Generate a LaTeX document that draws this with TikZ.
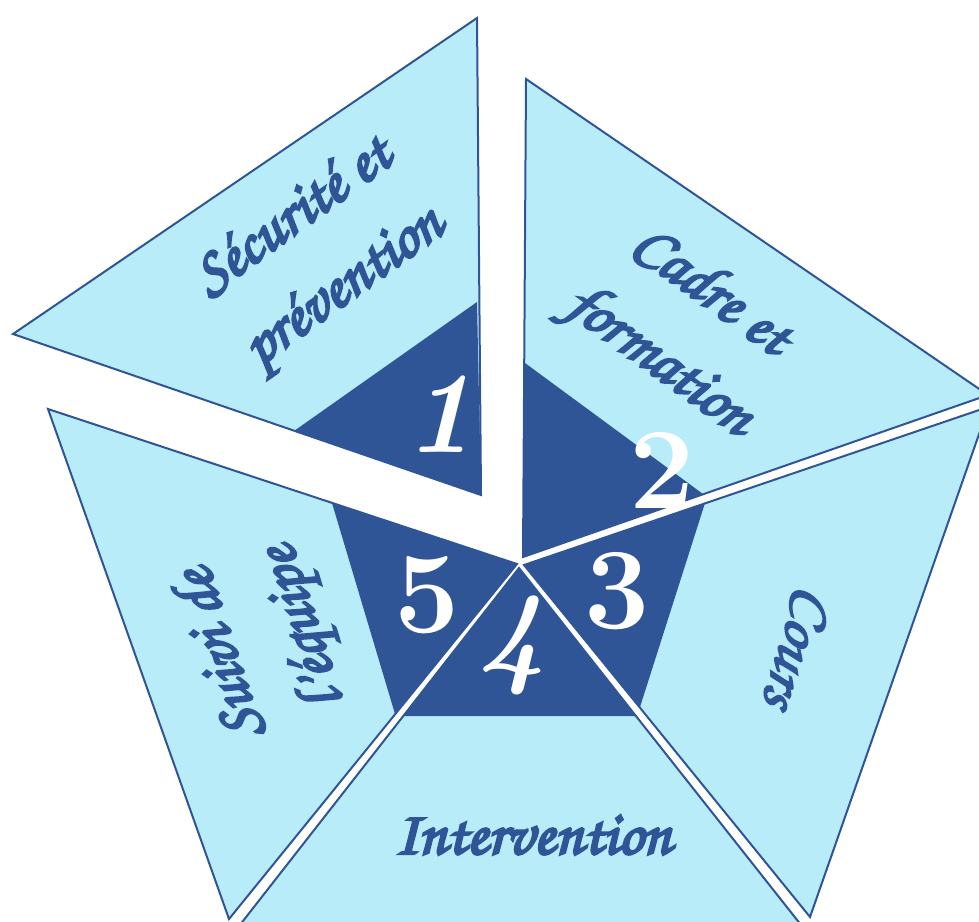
\documentclass[tikz,border=0pt]{standalone}
\usepackage{fontspec}
\newfontfamily\lblfont[FakeBold=4]{TeX Gyre Chorus}
\newfontfamily\lblthin[FakeBold=3]{TeX Gyre Chorus}
\definecolor{dkblue}{RGB}{47,85,151}
\definecolor{ltblue}{RGB}{184,236,249}
\tikzset{
  sect/.style={fill=ltblue, draw=dkblue, line width=2pt, line join=miter},
  core/.style={fill=dkblue},
  lbl/.style={text=dkblue, font=\lblfont\fontsize{62}{86}\selectfont, align=center, inner sep=0pt},
  num/.style={text=white, font=\fontsize{116}{116}\selectfont\bfseries, inner sep=0pt},
  numit/.style={num, font=\fontsize{116}{116}\selectfont\bfseries\itshape}
}
\begin{document}
\begin{tikzpicture}[x=1pt,y=-1pt]
\useasboundingbox (0,0) rectangle (979,921);
\clip (0,0) rectangle (979,921);
% sector 1
\draw[sect] (481,495) -- (477,18) -- (13,334) -- cycle;
\fill[core] (481,495) -- (477,302) -- (294,431) -- cycle;
% sector 2
\draw[sect] (523,557) -- (526,79) -- (988,395) -- cycle;
\fill[core] (523,557) -- (525,363) -- (703,494) -- cycle;
% sector 3
\draw[sect] (524,565) -- (988.6,406.8) -- (810,917) -- cycle;
\fill[core] (524,565) -- (705,503) -- (640,707) -- cycle;
% sector 4
\draw[sect] (519,568) -- (828.7,960) -- (212.5,960) -- cycle;
\fill[core] (519,568) -- (636,716) -- (403,716) -- cycle;
% sector 5
\draw[sect] (517,564) -- (48,409) -- (229,919) -- cycle;
\fill[core] (517,564) -- (332,503) -- (395,714) -- cycle;
% numbers
\node[numit] (n1) at (440,414) {1};
\node[num] (n2) at (662,470) {2};
\node[num] (n3) at (617,591) {3};
\node[numit] (n4) at (512,645) {4};
\node[num] (n5) at (427,595) {5};
% labels
\node[lbl, rotate=36] (l1) at (320,254) {Sécurité et\\prévention};
\node[lbl, rotate=-36] (l2) at (684,328) {Cadre et\\formation};
\node[lbl, font=\lblthin\fontsize{62}{86}\selectfont, rotate=-108] (l3) at (796,648) {Cours};
\node[lbl] (l4) at (533,835) {Intervention};
\node[lbl, rotate=108] (l5) at (264,640) {Suivi de\\l’équipe};
\end{tikzpicture}
\end{document}
